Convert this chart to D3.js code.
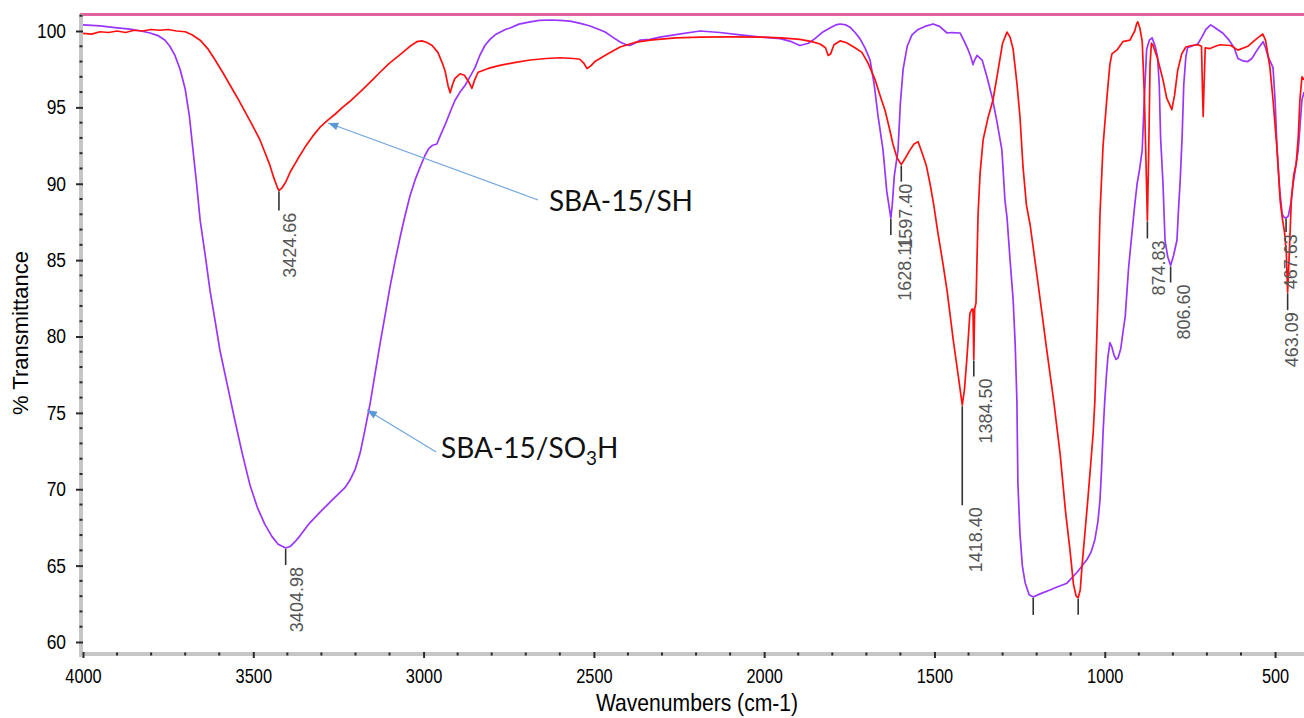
<!DOCTYPE html>
<html>
<head>
<meta charset="utf-8">
<script src="https://cdn.jsdelivr.net/npm/d3@7"></script>
<style>
  html, body { margin: 0; padding: 0; background: #fff; }
  svg { display: block; }
</style>
</head>
<body>
<svg id="chart" width="1304" height="718"></svg>
<script>
// ---------------- DATA ----------------
const xTickValues = [4000, 3500, 3000, 2500, 2000, 1500, 1000, 500];
const yTickValues = [60, 65, 70, 75, 80, 85, 90, 95, 100];

// SBA-15/SH  [wavenumber, %T]
const redSpectrum = [
[4000,99.85],[3975,99.8],[3950,99.95],[3925,99.9],[3900,100.0],[3875,99.9],[3850,100.05],[3825,100.0],[3800,100.1],[3775,100.05],[3750,100.1],[3725,100.0],[3700,99.95],[3680,99.75],[3656,99.4],[3634,98.85],[3612,98.1],[3590,97.3],[3568,96.45],[3546,95.6],[3524,94.7],[3502,93.8],[3480,92.85],[3465,92.0],[3451,91.2],[3440,90.4],[3430,89.8],[3424.66,89.55],[3415,89.75],[3405,90.1],[3392,90.75],[3370,91.6],[3348,92.4],[3326,93.1],[3304,93.7],[3282,94.15],[3260,94.55],[3238,95.0],[3216,95.4],[3180,96.15],[3150,96.8],[3128,97.3],[3100,97.9],[3069,98.45],[3040,99.0],[3020,99.3],[3005,99.35],[2990,99.25],[2975,99.05],[2958,98.6],[2945,97.9],[2937,97.4],[2928,96.4],[2922,95.95],[2915,96.5],[2908,96.9],[2893,97.2],[2880,97.1],[2868,96.7],[2858,96.25],[2850,96.8],[2840,97.3],[2810,97.55],[2776,97.75],[2730,97.95],[2687,98.1],[2640,98.2],[2599,98.25],[2560,98.2],[2541,98.15],[2530,97.9],[2520,97.55],[2510,97.7],[2497,98.0],[2460,98.5],[2423,98.95],[2380,99.25],[2335,99.4],[2260,99.55],[2188,99.6],[2100,99.62],[2012,99.6],[1950,99.55],[1895,99.45],[1860,99.3],[1836,99.15],[1820,98.9],[1812,98.4],[1805,98.5],[1795,99.1],[1777,99.35],[1760,99.25],[1748,99.1],[1730,98.85],[1713,98.6],[1695,97.9],[1674,96.8],[1660,95.8],[1645,94.8],[1632,93.6],[1622,92.6],[1610,91.7],[1597.4,91.25],[1585,91.7],[1572,92.2],[1560,92.6],[1548,92.75],[1536,92.0],[1524,91.2],[1513,90.0],[1502,88.6],[1490,86.8],[1476,84.9],[1463,83.0],[1445,79.8],[1430,77.4],[1418.4,75.5],[1412,76.5],[1405,78.5],[1401,79.8],[1396,81.5],[1390,81.8],[1387,81.8],[1384.5,78.5],[1382,81.8],[1378,82.2],[1372,88.0],[1366,90.7],[1357,92.9],[1343,94.3],[1328,95.5],[1315,97.2],[1300,99.2],[1287,99.93],[1278,99.6],[1269,98.8],[1258,96.6],[1249,94.4],[1240,91.1],[1230,88.6],[1219,87.3],[1196,83.5],[1172,79.4],[1150,75.8],[1131,72.3],[1115,68.5],[1102,66.0],[1092,63.8],[1084,63.0],[1078,62.9],[1072,63.4],[1067,64.9],[1058,67.2],[1049,69.5],[1040,72.0],[1034,73.7],[1029,75.8],[1020,82.5],[1014,88.0],[1005,92.5],[993,95.8],[985,97.8],[979,98.5],[964,98.76],[947,99.3],[926,99.4],[912,100.0],[906,100.5],[903,100.6],[897,100.2],[890,99.3],[884,96.0],[879,91.5],[874.83,87.6],[871,92.0],[867,97.8],[863,99.2],[859,99.1],[845,98.2],[829,96.8],[818,95.6],[803,94.85],[795,95.8],[786,97.4],[774,98.5],[762,98.95],[745,99.05],[726,99.1],[716,99.0],[713,96.0],[711,94.4],[709,96.0],[705,98.9],[691,98.85],[675,99.0],[661,99.1],[630,99.05],[609,98.75],[580,99.0],[559,99.4],[548,99.6],[536,99.8],[528,99.4],[520,98.3],[515,97.6],[506,95.5],[494,92.2],[485,88.9],[479,87.8],[472,86.8],[467,85.5],[463.09,82.9],[459,85.0],[452,89.0],[445,90.6],[438,91.3],[432,93.0],[427,95.5],[421,97.0],[415,96.8]
];

// SBA-15/SO3H  [wavenumber, %T]
const purpleSpectrum = [
[4000,100.4],[3950,100.33],[3900,100.2],[3862,100.12],[3830,100.0],[3803,99.87],[3780,99.7],[3759,99.4],[3745,99.0],[3730,98.4],[3715,97.5],[3700,96.2],[3688,94.5],[3677,92.2],[3666,89.9],[3656,87.6],[3641,85.3],[3627,83.0],[3612,81.0],[3598,79.1],[3576,76.8],[3554,74.5],[3532,72.3],[3510,70.3],[3488,68.8],[3466,67.7],[3445,66.9],[3427,66.4],[3404.98,66.15],[3392,66.25],[3378,66.55],[3363,66.95],[3334,67.8],[3304,68.5],[3268,69.3],[3231,70.1],[3216,70.6],[3201,71.3],[3186,72.4],[3172,73.9],[3157,75.6],[3143,77.5],[3128,79.5],[3113,81.4],[3099,83.2],[3084,84.9],[3069,86.5],[3054,87.95],[3040,89.2],[3025,90.25],[3010,91.1],[2996,91.85],[2985,92.3],[2975,92.5],[2961,92.6],[2950,93.2],[2937,93.85],[2922,94.7],[2908,95.45],[2893,96.0],[2878,96.45],[2864,97.0],[2849,97.6],[2835,98.4],[2820,99.05],[2805,99.45],[2790,99.75],[2760,100.1],[2746,100.2],[2720,100.45],[2687,100.6],[2660,100.7],[2629,100.72],[2600,100.7],[2570,100.65],[2540,100.5],[2511,100.33],[2485,100.1],[2467,99.93],[2445,99.6],[2423,99.28],[2405,99.1],[2394,99.05],[2380,99.2],[2365,99.4],[2335,99.45],[2306,99.6],[2250,99.8],[2188,100.0],[2130,99.9],[2071,99.75],[2010,99.6],[1953,99.5],[1920,99.3],[1895,99.05],[1870,99.2],[1851,99.5],[1830,99.9],[1807,100.2],[1790,100.4],[1777,100.46],[1760,100.4],[1748,100.25],[1733,99.9],[1719,99.5],[1704,98.9],[1689,98.1],[1677,96.5],[1666,94.5],[1651,92.2],[1640,89.5],[1628.11,87.75],[1624,88.6],[1618,90.5],[1607,92.2],[1600,95.3],[1592,97.5],[1580,99.0],[1566,99.75],[1548,100.1],[1528,100.3],[1504,100.46],[1485,100.3],[1463,99.87],[1450,99.9],[1425,99.87],[1412,99.3],[1401,98.76],[1393,98.3],[1387,97.8],[1382,98.1],[1375,98.4],[1360,98.1],[1346,97.0],[1331,95.7],[1316,94.0],[1302,92.2],[1293,88.9],[1287,87.8],[1278,85.0],[1269,82.4],[1263,79.5],[1258,75.8],[1255,70.4],[1249,67.1],[1242,65.0],[1234,63.9],[1222,63.1],[1210,62.95],[1190,63.15],[1161,63.4],[1140,63.6],[1111,63.85],[1080,64.6],[1052,65.4],[1040,65.9],[1029,66.7],[1020,67.9],[1014,69.3],[1009,71.5],[1005,73.7],[1000,75.8],[995,77.5],[991,78.6],[985,79.6],[979,79.3],[973,78.8],[967,78.5],[961,78.6],[953,79.2],[947,80.2],[940,81.3],[930,84.5],[920,86.8],[912,88.6],[905,90.0],[898,90.9],[890,92.2],[884,95.5],[877,98.8],[869,99.4],[861,99.55],[852,99.0],[845,98.3],[840,96.5],[836,93.0],[829,90.0],[823,86.3],[815,85.2],[806.6,84.65],[798,85.3],[788,86.3],[783,88.5],[779,90.0],[773,93.0],[768,96.5],[762,98.3],[757,98.9],[745,99.0],[727,99.15],[715,99.6],[703,100.1],[689,100.4],[675,100.2],[653,99.85],[635,99.4],[620,98.9],[609,98.2],[595,98.05],[580,98.0],[568,98.2],[557,98.6],[545,99.0],[535,99.3],[528,98.9],[520,98.3],[506,97.6],[500,95.5],[494,92.2],[486,89.5],[479,88.0],[473,87.8],[467.63,87.75],[461,87.9],[453,88.8],[447,90.0],[440,91.0],[432,92.2],[426,94.0],[421,95.5],[415,96.0]
];

// Peak labels
const peakLabels = ["3424.66","3404.98","1628.11","1597.40","1418.40","1384.50","","","874.83","806.60","467.63","463.09"];
const peakWn     = [3424.66, 3404.98, 1628.11, 1597.40, 1418.40, 1384.50, 1210, 1078, 874.83, 806.60, 467.63, 463.09];
const peakT      = [89.55, 66.15, 87.75, 91.25, 75.5, 78.5, 62.95, 62.9, 87.6, 84.65, 87.75, 82.9];

// Series annotations
const annotText   = ["SBA-15/SH", "SBA-15/SO3H"];
const annotWn     = [2632, 2949];
const annotT      = [88.22, 72.05];
const arrowFromWn = [2664, 2963];
const arrowFromT  = [88.94, 72.44];
const arrowToWn   = [3280, 3166];
const arrowToT    = [93.98, 75.19];

// ---------------- LAYOUT / STYLE ----------------
const peakLeaderLen = [20, 17, 17, 17, 100, 17, 18, 17, 18, 17, 14, 18];
const peakTextDx    = [11, 11, 14, 4, 13, 12, 0, 0, 11, 13, 4, 4];

const svg = d3.select("#chart");
const plotLeft = 83, plotRight = 1304, plotTop = 14, plotBottom = 654;

const x = d3.scaleLinear().domain([4000, 415]).range([plotLeft, plotRight]);
const y = d3.scaleLinear().domain([60, 100]).range([642, 31]);

const FONT = "'Liberation Sans', Arial, Helvetica, sans-serif";

// clip
svg.append("defs").append("clipPath").attr("id", "plotclip")
  .append("rect").attr("x", plotLeft).attr("y", plotTop)
  .attr("width", plotRight - plotLeft).attr("height", plotBottom - plotTop);

// arrow marker
svg.select("defs").append("marker")
  .attr("id", "arrowhead").attr("viewBox", "0 0 10 8")
  .attr("refX", 10).attr("refY", 4)
  .attr("markerWidth", 11).attr("markerHeight", 8)
  .attr("markerUnits", "userSpaceOnUse")
  .attr("orient", "auto")
  .append("path").attr("d", "M0,0 L10,4 L0,8 Z").attr("fill", "#5b9bd5");

// top frame line
svg.append("line")
  .attr("x1", plotLeft - 3).attr("x2", plotRight)
  .attr("y1", plotTop + 0.5).attr("y2", plotTop + 0.5)
  .attr("stroke", "#e0619c").attr("stroke-width", 3);

// axis bands
svg.append("rect").attr("x", plotLeft - 4).attr("y", plotTop)
  .attr("width", 4).attr("height", plotBottom - plotTop + 3)
  .attr("fill", "#c6c6c6");
svg.append("rect").attr("x", plotLeft - 4).attr("y", plotBottom - 2)
  .attr("width", plotRight - plotLeft + 4).attr("height", 4)
  .attr("fill", "#c6c6c6");

// minor ticks
const yMinor = d3.range(60, 102, 1).filter(v => v % 5 !== 0);
svg.append("g").selectAll("line").data(yMinor).join("line")
  .attr("x1", plotLeft - 3.5).attr("x2", plotLeft - 0.5)
  .attr("y1", d => y(d)).attr("y2", d => y(d))
  .attr("stroke", "#2a2a2a").attr("stroke-width", 2);
const xMinor = d3.range(4000, 400, -100).filter(v => v % 500 !== 0);
svg.append("g").selectAll("line").data(xMinor).join("line")
  .attr("x1", d => x(d)).attr("x2", d => x(d))
  .attr("y1", plotBottom - 1.5).attr("y2", plotBottom + 1.5)
  .attr("stroke", "#2a2a2a").attr("stroke-width", 2);

// major axes
const yAxis = d3.axisLeft(y).tickValues(yTickValues).tickSize(7).tickPadding(12.5)
  .tickFormat(d3.format("d"));
const gy = svg.append("g").attr("transform", `translate(${plotLeft},0)`).call(yAxis);
gy.select(".domain").remove();
gy.selectAll(".tick line").attr("stroke", "#2a2a2a").attr("stroke-width", 2);
gy.selectAll(".tick text")
  .attr("font-family", FONT).attr("font-size", 20).attr("fill", "#000")
  .attr("transform", "scale(0.87,1)");

const xAxis = d3.axisBottom(x).tickValues(xTickValues).tickSize(6).tickPadding(10)
  .tickFormat(d3.format("d"));
const gx = svg.append("g").attr("transform", `translate(0,${plotBottom - 2})`).call(xAxis);
gx.select(".domain").remove();
gx.selectAll(".tick line").attr("stroke", "#2a2a2a").attr("stroke-width", 2);
gx.selectAll(".tick text")
  .attr("font-family", FONT).attr("font-size", 21).attr("fill", "#000")
  .attr("transform", "scale(0.78,1)");

// axis titles
svg.append("text")
  .attr("transform", `translate(697,711) scale(0.88,1)`)
  .attr("text-anchor", "middle")
  .attr("font-family", FONT).attr("font-size", 24).attr("fill", "#000")
  .text("Wavenumbers (cm-1)");
svg.append("text")
  .attr("transform", `translate(28,333) rotate(-90)`)
  .attr("text-anchor", "middle")
  .attr("font-family", FONT).attr("font-size", 22).attr("fill", "#000")
  .text("% Transmittance");

// spectra
const line = d3.line().x(d => x(d[0])).y(d => y(d[1]));
const gPlot = svg.append("g").attr("clip-path", "url(#plotclip)");
gPlot.append("path").datum(purpleSpectrum)
  .attr("d", line).attr("fill", "none")
  .attr("stroke", "#9a35ff").attr("stroke-width", 1.7).attr("stroke-linejoin", "round");
gPlot.append("path").datum(redSpectrum)
  .attr("d", line).attr("fill", "none")
  .attr("stroke", "#ff1010").attr("stroke-width", 1.7).attr("stroke-linejoin", "round");

// peak labels
const gPeaks = svg.append("g");
peakWn.forEach((wn, i) => {
  const px = x(wn), py = y(peakT[i]);
  const len = peakLeaderLen[i];
  gPeaks.append("line")
    .attr("x1", px).attr("x2", px)
    .attr("y1", py + 1).attr("y2", py + len)
    .attr("stroke", "#333").attr("stroke-width", 1.6);
  if (peakLabels[i]) {
    gPeaks.append("text")
      .attr("transform", `translate(${px + peakTextDx[i]},${py + len + 2}) rotate(-90)`)
      .attr("text-anchor", "end")
      .attr("dy", "0.36em")
      .attr("font-family", FONT).attr("font-size", 18).attr("fill", "#555")
      .text(peakLabels[i]);
  }
});

// annotations
const gAnn = svg.append("g");
annotText.forEach((t, i) => {
  gAnn.append("line")
    .attr("x1", x(arrowFromWn[i])).attr("y1", y(arrowFromT[i]))
    .attr("x2", x(arrowToWn[i])).attr("y2", y(arrowToT[i]))
    .attr("stroke", "#6fa6dc").attr("stroke-width", 1.2)
    .attr("marker-end", "url(#arrowhead)");
  const txt = gAnn.append("text")
    .attr("x", x(annotWn[i])).attr("y", y(annotT[i]))
    .attr("font-family", "Lato, 'Open Sans', sans-serif")
    .attr("font-size", 28).attr("fill", "#111");
  const m = t.match(/^(.*SO)(\d)(.*)$/);
  if (m) {
    txt.append("tspan").text(m[1]);
    txt.append("tspan").attr("font-size", 19).attr("dy", 7).text(m[2]);
    txt.append("tspan").attr("dy", -7).text(m[3]);
  } else {
    txt.text(t);
  }
});
</script>
</body>
</html>
